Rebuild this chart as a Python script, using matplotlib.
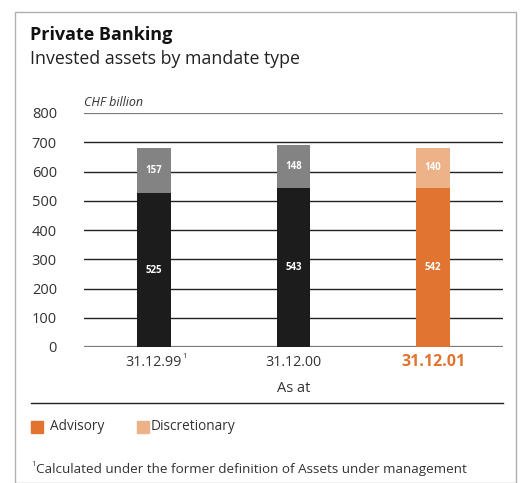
import matplotlib.pyplot as plt
from matplotlib.patches import Rectangle
from matplotlib.lines import Line2D

categories = ['31.12.99', '31.12.00', '31.12.01']
advisory = [525, 543, 542]
discretionary = [157, 148, 140]
y_ticks = [0, 100, 200, 300, 400, 500, 600, 700, 800]

W, H = 520, 483
FONT = 'Open Sans'
DARK = '#1c1c1c'
GREY = '#838383'
ORANGE = '#e07430'
LIGHT_ORANGE = '#edb287'
TEXT = '#333333'

fig = plt.figure(figsize=(W / 100, H / 100), dpi=100)


def fx(px):
    return px / W


def fy(py):
    return 1 - py / H


# outer frame
fig.patches.append(Rectangle((fx(15), fy(483)), fx(516) - fx(15), fy(12) - fy(483),
                             transform=fig.transFigure, fill=False,
                             edgecolor='#b0b0b0', lw=1.0))

fig.text(fx(30), fy(35), 'Private Banking', fontsize=13, fontweight='bold',
         family=FONT, color='#111111', va='center')
fig.text(fx(30), fy(59), 'Invested assets by mandate type', fontsize=12.8,
         family=FONT, color='#222222', va='center')

ax = fig.add_axes([fx(84), fy(347), fx(503) - fx(84), fy(113) - fy(347)])
x = list(range(len(categories)))
bar_w = 0.243

# gridlines
for t in y_ticks:
    if t in (0, 800):
        ax.axhline(t, color='#7a7a7a', lw=1.6, zorder=1)
    else:
        ax.axhline(t, color='#222222', lw=1.0, zorder=1)

colors_low = [DARK, DARK, ORANGE]
colors_high = [GREY, GREY, LIGHT_ORANGE]
ax.bar(x, advisory, width=bar_w, color=colors_low, zorder=3)
ax.bar(x, discretionary, width=bar_w, bottom=advisory, color=colors_high, zorder=3)

for i in x:
    ax.text(i, advisory[i] / 2, str(advisory[i]), ha='center', va='center',
            color='white', fontsize=7, fontweight='bold', family=FONT, zorder=4)
    ax.text(i, advisory[i] + discretionary[i] / 2, str(discretionary[i]),
            ha='center', va='center', color='white', fontsize=7,
            fontweight='bold', family=FONT, zorder=4)

ax.set_xlim(-0.5, 2.5)
ax.set_ylim(0, 800)
ax.set_yticks(y_ticks)
ax.set_yticklabels([str(t) for t in y_ticks], family=FONT, fontsize=10.5, color=TEXT)
ax.tick_params(axis='y', length=0, pad=19.5)
ax.set_xticks(x)
ax.set_xticklabels([])
ax.tick_params(axis='x', length=0)
for s in ax.spines.values():
    s.set_visible(False)
ax.patch.set_alpha(0)

fig.text(fx(84), fy(103), 'CHF billion', fontsize=9, style='italic', family=FONT,
         color=TEXT, va='center', ha='left')

# x labels
label_y = fy(362)
fig.canvas.draw()
renderer = fig.canvas.get_renderer()
for i, c in enumerate(categories):
    xp = ax.transData.transform((i, 0))[0] / fig.bbox.width
    if i == len(categories) - 1:
        fig.text(xp, label_y, c, ha='center', va='center', fontsize=11.5,
                 fontweight='bold', family=FONT, color=ORANGE)
    else:
        t = fig.text(xp, label_y, c, ha='center', va='center', fontsize=10.3,
                     family=FONT, color=TEXT)
        if i == 0:
            ext = t.get_window_extent(renderer)
            fig.text(ext.x1 / W, fy(356), '1', fontsize=5.5, family=FONT,
                     color=TEXT, va='center')
fig.text(fx(294), fy(389), 'As at', ha='center', va='center', fontsize=10.5,
         family=FONT, color=TEXT)

fig.lines.append(Line2D([fx(31), fx(503)], [fy(403), fy(403)],
                        transform=fig.transFigure, color='#222222', lw=1.0))

# legend
fig.patches.append(Rectangle((fx(31), fy(433)), fx(12), fy(0) - fy(12),
                             transform=fig.transFigure, color=ORANGE))
fig.text(fx(50), fy(427), 'Advisory', fontsize=9.8, family=FONT, color=TEXT, va='center')
fig.patches.append(Rectangle((fx(137), fy(433)), fx(12), fy(0) - fy(12),
                             transform=fig.transFigure, color=LIGHT_ORANGE))
fig.text(fx(151), fy(427), 'Discretionary', fontsize=9.8, family=FONT, color=TEXT,
         va='center')

# footnote
fig.text(fx(31), fy(465), '1', fontsize=5.5, family=FONT, color=TEXT, va='center')
fig.text(fx(36), fy(470), 'Calculated under the former definition of Assets under management',
         fontsize=9.7, family=FONT, color=TEXT, va='center')

fig.savefig('out.png', dpi=100)
